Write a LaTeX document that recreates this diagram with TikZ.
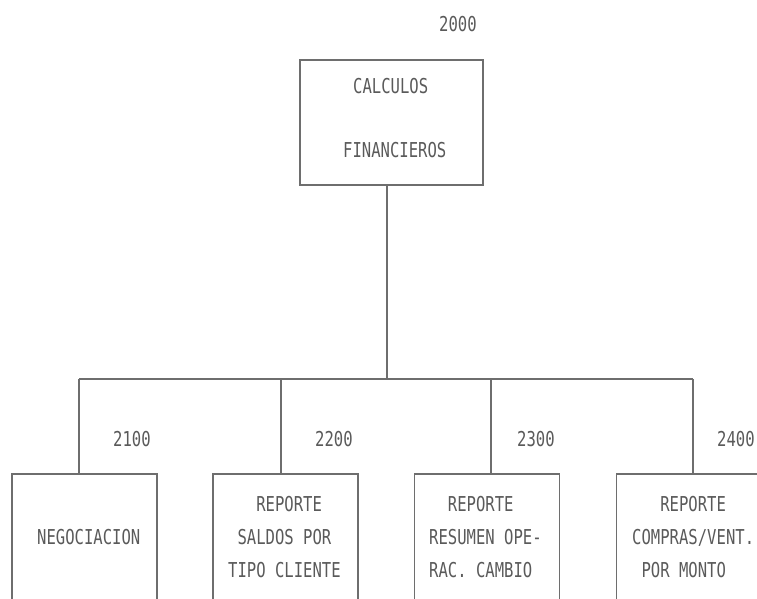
\documentclass[tikz,border=0pt]{standalone}
\usepackage{fontspec}
\newfontfamily\plotfont[FakeStretch=0.76]{DejaVu Sans Mono}
\definecolor{ink}{RGB}{90,90,90}
\definecolor{wire}{RGB}{110,110,110}
\begin{document}
\begin{tikzpicture}[x=1pt,y=-1pt,
  every node/.style={font=\plotfont\fontsize{20.5}{33}\selectfont, text=ink},
  box/.style={draw=wire, line width=1.3pt, inner sep=0pt, minimum width=145pt, minimum height=150pt},
  txt/.style={inner sep=0pt, anchor=west, align=left},
  conn/.style={draw=wire, line width=1.3pt}]
\useasboundingbox (0,0) rectangle (757,598);
% top box
\node[box, minimum width=183pt, minimum height=125pt] (top) at (391.5,122.5) {};
\node[txt] (t1) at (353,86) {CALCULOS};
\node[txt] (t2) at (343,150) {FINANCIEROS};
\node[txt] (n0) at (439,24) {2000};
% bottom boxes
\node[box] (b1) at (84.5,549) {};
\node[box] (b2) at (285.5,549) {};
\node[box] (b3) at (487,549) {};
\node[box] (b4) at (689,549) {};
\node[txt] (l1) at (37,537) {NEGOCIACION};
\node[txt] (l2) at (228,537) {\phantom{XXX}REPORTE\\\phantom{X}SALDOS POR\\TIPO CLIENTE};
\node[txt] (l3) at (429,537) {\phantom{XX}REPORTE\\RESUMEN OPE-\\RAC. CAMBIO};
\node[txt] (l4) at (632,537) {\phantom{XXX}REPORTE\\COMPRAS/VENT.\\\phantom{X}POR MONTO};
\node[txt] (n1) at (113,439) {2100};
\node[txt] (n2) at (315,439) {2200};
\node[txt] (n3) at (517,439) {2300};
\node[txt] (n4) at (717,439) {2400};
% connectors
\coordinate (j) at (387,379);
\coordinate (j1) at (79,379);
\coordinate (j2) at (281,379);
\coordinate (j3) at (491,379);
\coordinate (j4) at (693,379);
\draw[conn] (top.south -| j) -- (j);
\draw[conn] (j1) -- (j4);
\draw[conn] (j1) -- (j1 |- b1.north);
\draw[conn] (j2) -- (j2 |- b2.north);
\draw[conn] (j3) -- (j3 |- b3.north);
\draw[conn] (j4) -- (j4 |- b4.north);
\end{tikzpicture}
\end{document}
